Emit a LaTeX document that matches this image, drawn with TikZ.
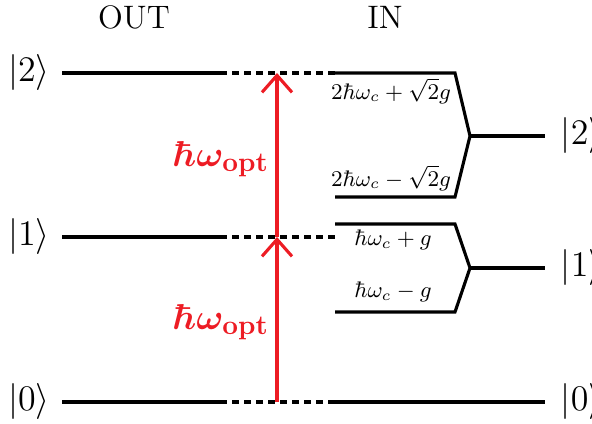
\documentclass[tikz,border=0pt]{standalone}
\usepackage{amsmath}
\usepackage{bm}
\usetikzlibrary{arrows.meta}
\definecolor{PhotRed}{HTML}{ED1C24}

\begin{document}
\begin{tikzpicture}[x=0.4pt,y=-0.4pt,line width=1.25pt,
  virt/.style={dash pattern=on 2.8pt off 2pt},
  photon/.style={PhotRed,-{Straight Barb[length=6.8pt,width=12pt]}},
  ket/.style={font=\fontsize{14}{16}\selectfont},
  head/.style={font=\fontsize{13}{15}\selectfont},
  split/.style={font=\fontsize{9}{11}\selectfont},
  optlab/.style={text=PhotRed,font=\fontsize{15.5}{18}\selectfont}]
  \useasboundingbox (0,0) rectangle (592,424);
  % column heads
  \node[head] (out) at (134,17) {OUT};
  \node[head] (in) at (385,17) {IN};
  % bare levels, left side
  \foreach \n/\y in {0/402,1/237,2/73}{
     \node[ket] (lk\n) at (29,\y) {$|\n\rangle$};
     \coordinate (a\n) at (62,\y);
     \coordinate (b\n) at (220,\y);
     \coordinate (c\n) at (335,\y);
     \draw (a\n)--(b\n);
     \draw[virt] (b\n)--(c\n);}
  % dressed doublets, right side
  \foreach \n/\yu/\ym/\yd in {2/73/136/197,1/224/268/312}{
     \coordinate (u\n) at (335,\yu); \coordinate (ue\n) at (455,\yu);
     \coordinate (d\n) at (335,\yd); \coordinate (de\n) at (455,\yd);
     \coordinate (m\n) at (470,\ym); \coordinate (r\n) at (545,\ym);
     \draw[line join=miter] (u\n)--(ue\n)--(m\n)--(de\n)--(d\n);
     \draw (m\n)--(r\n);
     \node[ket,anchor=west] (rk\n) at (551,\ym) {$|\n\rangle$};}
  \coordinate (r0) at (545,402);
  \draw (c0)--(r0);
  \node[ket,anchor=west] (rk0) at (551,402) {$|0\rangle$};
  % splittings
  \node[split] (l2p) at (391,91) {$2\hbar\omega_c+\sqrt{2}g$};
  \node[split] (l2m) at (391,178) {$2\hbar\omega_c-\sqrt{2}g$};
  \node[split] (l1p) at (393,240) {$\hbar\omega_c+g$};
  \node[split] (l1m) at (393,292) {$\hbar\omega_c-g$};
  % photons
  \coordinate (p0) at (277,402);
  \coordinate (p1) at (277,237);
  \coordinate (p2) at (277,73);
  \draw[photon] (p0)--(p1);
  \draw[photon] (p1)--(p2);
  \node[optlab] (o1) at (221,322) {$\bm{\hbar\omega}_{\mathbf{opt}}$};
  \node[optlab] (o2) at (221,159) {$\bm{\hbar\omega}_{\mathbf{opt}}$};
\end{tikzpicture}
\end{document}
